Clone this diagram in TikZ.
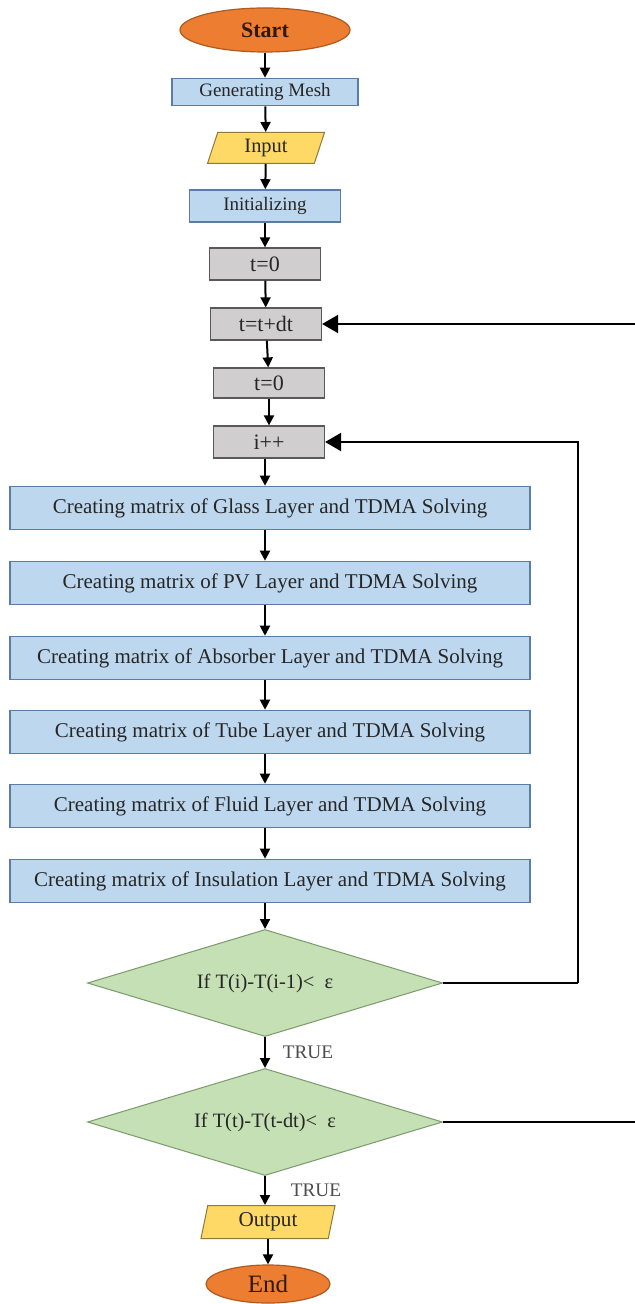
\documentclass[tikz,border=0pt]{standalone}
\usepackage{fontspec}
\setmainfont{Liberation Serif}
\usetikzlibrary{shapes.geometric,arrows.meta}
\definecolor{orfill}{HTML}{ED7D31}
\definecolor{ordraw}{HTML}{AE5A21}
\definecolor{blfill}{HTML}{BDD7EE}
\definecolor{bldraw}{HTML}{5B7CA6}
\definecolor{yefill}{HTML}{FFD966}
\definecolor{yedraw}{HTML}{8F7A3A}
\definecolor{grfill}{HTML}{D0CECE}
\definecolor{grdraw}{HTML}{595959}
\definecolor{gnfill}{HTML}{C5E0B4}
\definecolor{gndraw}{HTML}{7A9A6A}
\definecolor{txt}{HTML}{262626}
\newcommand{\fsz}[1]{\fontsize{#1}{#1}\selectfont}
\tikzset{
  base/.style={inner sep=0pt, font=\fsz{10}, text=txt},
  term/.style={base, ellipse, draw=ordraw, fill=orfill, line width=0.6pt, text=black!80!orfill},
  bluebox/.style={base, rectangle, draw=bldraw, fill=blfill, line width=0.8pt},
  bigbox/.style={bluebox, minimum width=260pt, minimum height=21.5pt, font=\fsz{10.5}},
  graybox/.style={base, rectangle, draw=grdraw, fill=grfill, line width=0.6pt, minimum width=55.5pt, minimum height=16pt, font=\fsz{11}},
  io/.style={base, trapezium, trapezium stretches body, draw=yedraw, fill=yefill, line width=0.5pt},
  cond/.style={base, diamond, aspect=3.32, draw=gndraw, fill=gnfill, line width=0.5pt, minimum width=177.5pt, minimum height=53.5pt, font=\fsz{10.2}},
  flow/.style={line width=1pt, -{Triangle[length=5pt,width=5pt]}},
  loop/.style={line width=1pt, -{Triangle[length=8pt,width=9pt]}},
  lbl/.style={font=\fsz{9.6}, text=black!70},
}
\begin{document}
\begin{tikzpicture}[x=0.5pt,y=-0.5pt]
\useasboundingbox[fill=white] (0,0) rectangle (635,1304);
\node[term, minimum width=85pt, minimum height=22pt, font=\fsz{11}\bfseries] (start) at (265,30) {Start};
\node[bluebox, minimum width=93pt, minimum height=13.5pt, font=\fsz{9.5}] (mesh) at (265,92) {Generating Mesh};
\node[io, trapezium left angle=60, trapezium right angle=120, minimum width=58.5pt, minimum height=15.5pt, font=\fsz{10.2}] (input) at (266,148) {Input};
\node[bluebox, minimum width=75.5pt, minimum height=16pt, font=\fsz{9.5}] (init) at (265,206) {Initializing};
\node[graybox] (t0a) at (265,264) {t=0};
\node[graybox] (tdt) at (266,324) {t=t+dt};
\node[graybox, minimum height=15pt] (t0b) at (269,383) {t=0};
\node[graybox] (ipp) at (269,442) {i++};
\node[bigbox] (glass) at (270,508) {Creating matrix of Glass Layer and TDMA Solving};
\node[bigbox] (pv) at (270,583) {Creating matrix of PV Layer and TDMA Solving};
\node[bigbox] (abs) at (270,658) {Creating matrix of Absorber Layer and TDMA Solving};
\node[bigbox] (tube) at (270,732) {Creating matrix of Tube Layer and TDMA Solving};
\node[bigbox] (fluid) at (270,806) {Creating matrix of Fluid Layer and TDMA Solving};
\node[bigbox] (ins) at (270,881) {Creating matrix of Insulation Layer and TDMA Solving};
\node[cond] (d1) at (265,983) {If T(i)-T(i-1)<\ \ ε};
\node[cond] (d2) at (265,1122) {If T(t)-T(t-dt)<\ \ ε};
\node[io, trapezium left angle=70, trapezium right angle=110, minimum width=67pt, minimum height=16.5pt, font=\fsz{10.6}] (output) at (268,1222) {Output};
\node[term, minimum width=62pt, minimum height=19pt, font=\fsz{12.5}] (end) at (268,1284) {End};
\node[lbl] (true1) at (308,1052) {TRUE};
\node[lbl] (true2) at (316,1190) {TRUE};
\coordinate (iloop) at (578,983);
\coordinate (tloop) at (660,1122);
\draw[flow] (start) -- (mesh);
\draw[flow] (mesh) -- (input);
\draw[flow] (input) -- (init);
\draw[flow] (init) -- (t0a);
\draw[flow] (t0a) -- (tdt);
\draw[flow] (tdt) -- (t0b);
\draw[flow] (t0b) -- (ipp);
\draw[flow] (ipp.south -| 265,0) -- (glass.north -| 265,0);
\draw[flow] (glass.south -| 265,0) -- (pv.north -| 265,0);
\draw[flow] (pv.south -| 265,0) -- (abs.north -| 265,0);
\draw[flow] (abs.south -| 265,0) -- (tube.north -| 265,0);
\draw[flow] (tube.south -| 265,0) -- (fluid.north -| 265,0);
\draw[flow] (fluid.south -| 265,0) -- (ins.north -| 265,0);
\draw[flow] (ins.south -| d1.north) -- (d1.north);
\draw[flow] (d1) -- (d2);
\draw[flow] (d2.south) -- (output.north -| d2.south);
\draw[flow] (output.south -| end.north) -- (end.north);
\draw[line width=1pt] (d1.east) -- (iloop);
\draw[loop] (iloop) |- (ipp.east);
\draw[line width=1pt] (d2.east) -- (tloop);
\draw[loop] (tloop) |- (tdt.east);
\end{tikzpicture}
\end{document}
